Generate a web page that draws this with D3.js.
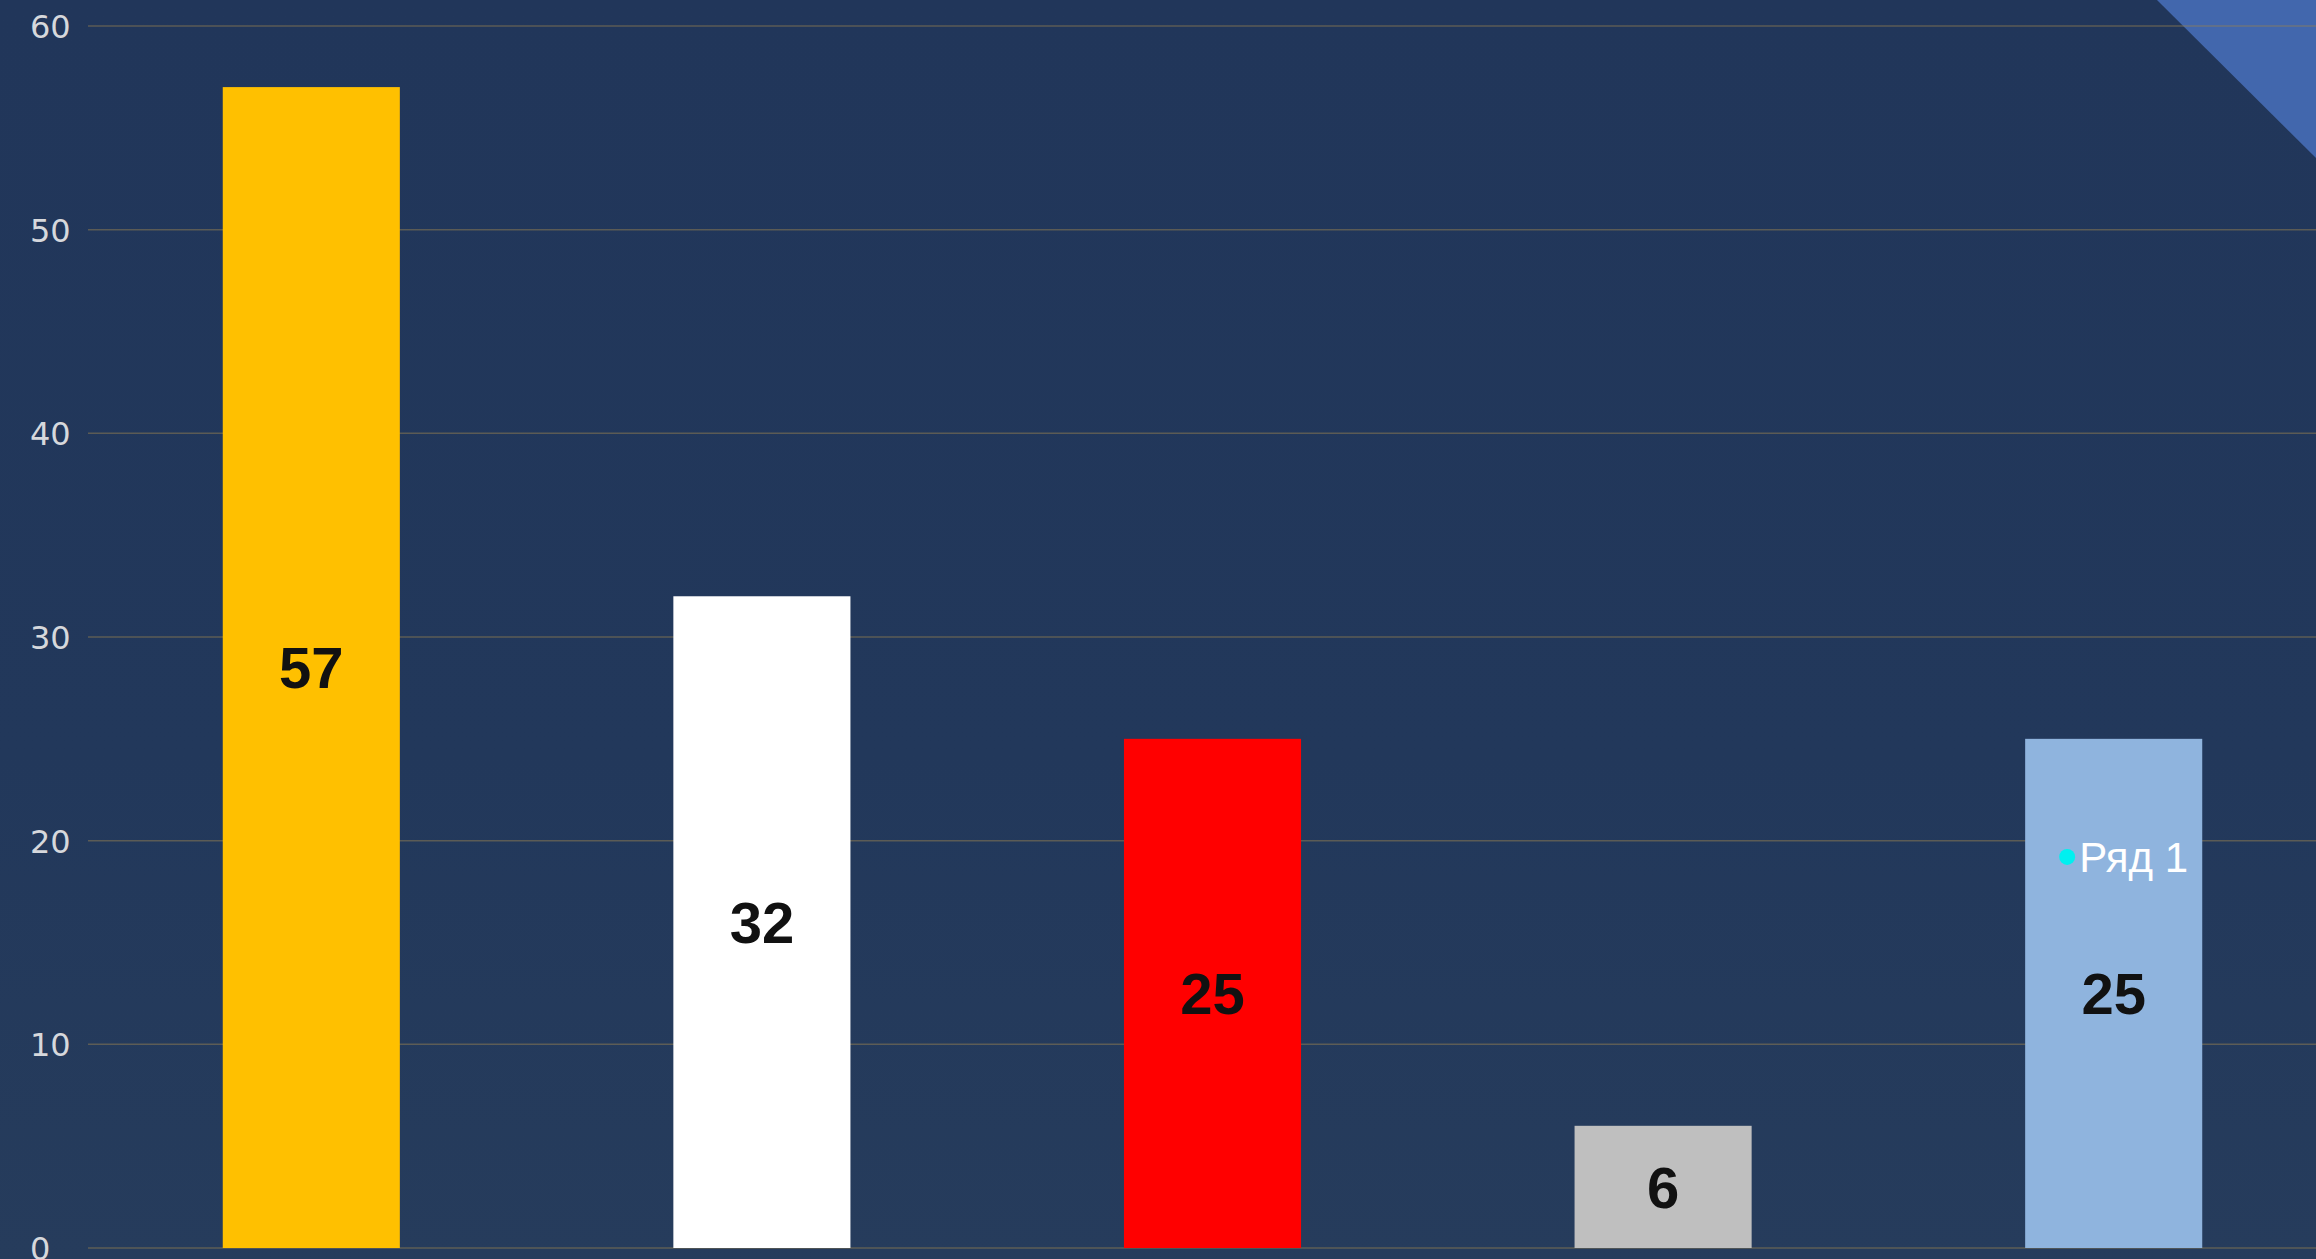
<!DOCTYPE html>
<html>
<head>
<meta charset="utf-8">
<script src="https://cdn.jsdelivr.net/npm/d3@7"></script>
<style>
  html, body { margin: 0; padding: 0; background: #21365a; overflow: hidden; }
  #chart { width: 2316px; height: 1259px; }
</style>
</head>
<body>
<div id="chart"></div>
<script>
// Chart data
const categories = ["1", "2", "3", "4", "5"];
const values = [57, 32, 25, 6, 25];
const barColors = ["#FFC000", "#FFFFFF", "#FF0000", "#BFBFBF", "#8FB4DE"];
const yTicks = [0, 10, 20, 30, 40, 50, 60];
const seriesName = "Ряд 1";

const width = 2316;
const height = 1259;

const svg = d3.select("#chart").append("svg")
    .attr("width", width)
    .attr("height", height);

// Background
const defs = svg.append("defs");
const bg = defs.append("linearGradient")
    .attr("id", "bg-gradient")
    .attr("x1", 0).attr("y1", 0)
    .attr("x2", 0).attr("y2", 1);
bg.append("stop").attr("offset", "0%").attr("stop-color", "#21365a");
bg.append("stop").attr("offset", "60%").attr("stop-color", "#22385b");
bg.append("stop").attr("offset", "100%").attr("stop-color", "#263c5c");

svg.append("rect")
    .attr("width", width)
    .attr("height", height)
    .attr("fill", "url(#bg-gradient)");

// Blue corner triangle (slide decoration)
svg.append("path")
    .attr("d", `M${width - 159},0 L${width},0 L${width},158 Z`)
    .attr("fill", "#4267ad");

// Scales
const y = d3.scaleLinear()
    .domain([0, 60])
    .range([1248, 26]);

const x = d3.scaleBand()
    .domain(categories)
    .range([86, 2339])
    .paddingInner(0.607)
    .paddingOuter(0.3035);

// Gridlines
svg.append("g")
    .selectAll("line")
    .data(yTicks)
    .enter().append("line")
    .attr("x1", 88)
    .attr("x2", width)
    .attr("y1", d => y(d))
    .attr("y2", d => y(d))
    .attr("stroke", "rgba(150,128,80,0.5)")
    .attr("stroke-width", 1.5);

// Y axis labels
const yAxis = svg.append("g")
    .call(d3.axisLeft(y).tickValues(yTicks).tickSize(0).tickFormat(d3.format("d")));
yAxis.select(".domain").remove();
yAxis.selectAll("text")
    .attr("x", 30)
    .attr("dy", "0.36em")
    .style("text-anchor", "start")
    .style("font-family", "'DejaVu Sans', sans-serif")
    .style("font-size", "32px")
    .style("fill", "#d6d8dc");

// Bars
svg.append("g")
    .selectAll("rect")
    .data(values)
    .enter().append("rect")
    .attr("x", (d, i) => x(categories[i]))
    .attr("y", d => y(d))
    .attr("width", x.bandwidth())
    .attr("height", d => y(0) - y(d))
    .attr("fill", (d, i) => barColors[i]);

// Value labels, centred in each bar
svg.append("g")
    .selectAll("text")
    .data(values)
    .enter().append("text")
    .attr("x", (d, i) => x(categories[i]) + x.bandwidth() / 2)
    .attr("y", d => (y(d) + y(0)) / 2)
    .attr("dy", "0.36em")
    .style("text-anchor", "middle")
    .style("font-family", "'Liberation Sans', Arial, sans-serif")
    .style("font-weight", "bold")
    .style("font-size", "58px")
    .style("fill", "#111111")
    .text(d => d);

// Series legend entry ("Ряд 1") sitting over the last bar
const legend = svg.append("g")
    .attr("transform", `translate(${x(categories[4]) + 42}, ${y(19.2)})`);
legend.append("circle")
    .attr("cx", 0)
    .attr("cy", 0)
    .attr("r", 8)
    .attr("fill", "#00F0F0");
legend.append("text")
    .attr("x", 12)
    .attr("y", 0)
    .attr("dy", "0.36em")
    .style("font-family", "'Liberation Sans', Arial, sans-serif")
    .style("font-size", "42px")
    .style("fill", "#FFFFFF")
    .text(seriesName);
</script>
</body>
</html>
